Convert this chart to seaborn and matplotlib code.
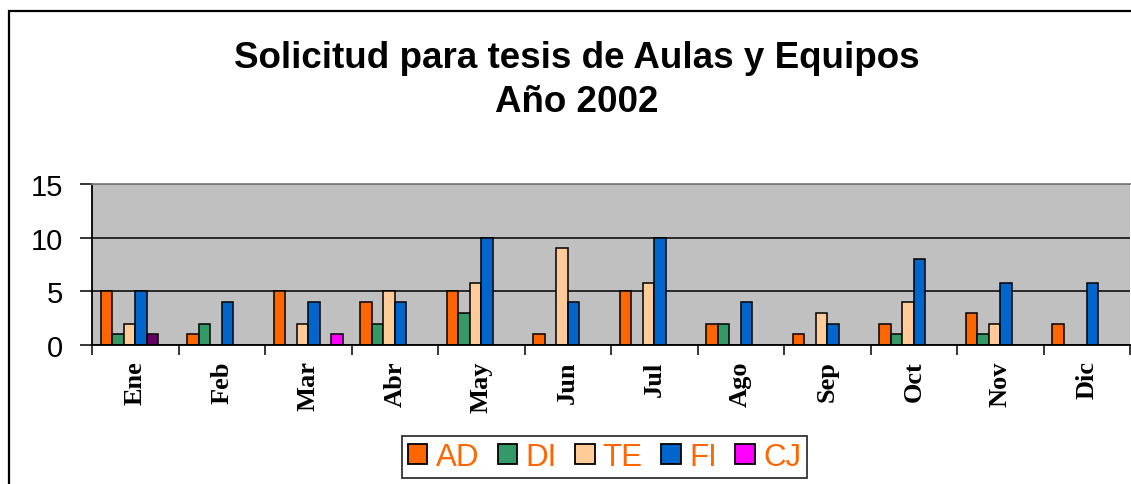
import matplotlib
matplotlib.use("Agg")
import matplotlib.pyplot as plt
from matplotlib.patches import Patch, Rectangle
import numpy as np
import pandas as pd
import seaborn as sns

meses = ["Ene", "Feb", "Mar", "Abr", "May", "Jun", "Jul", "Ago", "Sep", "Oct", "Nov", "Dic"]
series = ["AD", "DI", "TE", "FI", "S5", "CJ"]
legend_series = ["AD", "DI", "TE", "FI", "CJ"]

ad = [5, 1, 5, 4, 5, 1, 5, 2, 1, 2, 3, 2]
di = [1, 2, 0, 2, 3, 0, 0, 2, 0, 1, 1, 0]
te = [2, 0, 2, 5, 5.8, 9, 5.8, 0, 3, 4, 2, 0]
fi = [5, 4, 4, 4, 10, 4, 10, 4, 2, 8, 5.8, 5.8]
s5 = [1, 0, 0, 0, 0, 0, 0, 0, 0, 0, 0, 0]
cj = [0, 0, 1, 0, 0, 0, 0, 0, 0, 0, 0, 0]

colores = {"AD": "#FF6600", "DI": "#339966", "TE": "#FFCC99",
           "FI": "#0066CC", "S5": "#660066", "CJ": "#FF00FF"}

valores = {"AD": ad, "DI": di, "TE": te, "FI": fi, "S5": s5, "CJ": cj}
rows = []
for s in series:
    for m, v in zip(meses, valores[s]):
        if v > 0:
            rows.append({"Mes": m, "Serie": s, "Valor": v})
df = pd.DataFrame(rows)

sns.set_style("ticks")
plt.rcParams["font.family"] = ["Liberation Sans", "DejaVu Sans"]
plt.rcParams["text.color"] = "black"
plt.rcParams["xtick.color"] = "black"
plt.rcParams["ytick.color"] = "black"
plt.rcParams["axes.labelcolor"] = "black"

W, H = 1131, 485
fig = plt.figure(figsize=(W / 100, H / 100), dpi=100)
ax = fig.add_axes([92 / W, 1 - 346 / H, (1130 - 92) / W, (346 - 185) / H])

sns.barplot(data=df, x="Mes", y="Valor", hue="Serie", order=meses, hue_order=series,
            palette=colores, width=0.8, dodge=True, saturation=1, errorbar=None,
            edgecolor="black", linewidth=1.1, legend=False, ax=ax)

ax.set_facecolor("#C0C0C0")
ax.set_xlim(-0.5, 11.5)
ax.set_ylim(0, 15)
ax.set_yticks([0, 5, 10, 15])
ax.set_yticklabels(["0", "5", "10", "15"], fontsize=21, color="black")
ax.yaxis.grid(True, color="black", linewidth=1.1)
ax.xaxis.grid(False)
ax.set_axisbelow(True)
ax.tick_params(axis="y", left=True, direction="out", length=9, width=1.1, pad=12,
               colors="black")

ax.set_xticks(range(12))
ax.set_xticklabels(meses, rotation=90, fontsize=19, fontweight="bold",
                   family="Liberation Serif", va="top", ha="center", color="black")
ax.tick_params(axis="x", which="major", bottom=True, length=0, pad=11)
ax.set_xticks(np.arange(-0.5, 12, 1), minor=True)
ax.tick_params(axis="x", which="minor", bottom=True, direction="out", length=7,
               width=1.1, color="black")
ax.set_xlabel("")
ax.set_ylabel("")

for side in ["left", "bottom"]:
    ax.spines[side].set_visible(True)
    ax.spines[side].set_color("black")
    ax.spines[side].set_linewidth(1.3)
ax.spines["top"].set_visible(True)
ax.spines["top"].set_color("#808080")
ax.spines["top"].set_linewidth(1.3)
ax.spines["right"].set_visible(False)

fig.text(577 / W, 1 - 58 / H, "Solicitud para tesis de Aulas y Equipos",
         ha="center", va="center", fontsize=26.5, fontweight="bold", color="black")
fig.text(577 / W, 1 - 103 / H, "Año 2002",
         ha="center", va="center", fontsize=26.5, fontweight="bold", color="black")

handles = [Patch(facecolor=colores[s], edgecolor="black", linewidth=1.3) for s in legend_series]
leg = fig.legend(handles, legend_series, loc="center",
                 bbox_to_anchor=((401 + 808) / 2 / W, 1 - 458 / H), ncol=5,
                 frameon=True, fancybox=False, edgecolor="black",
                 prop={"size": 22.5, "family": "Liberation Sans"}, labelcolor="#FF6600",
                 handlelength=0.62, handleheight=0.62, handletextpad=0.26,
                 columnspacing=0.6, borderpad=0.2, borderaxespad=0)
leg.get_frame().set_linewidth(1.3)

fig.add_artist(Rectangle((9 / W, -0.2), 1.5, 1.2 - 12 / H, transform=fig.transFigure,
                         fill=False, edgecolor="black", linewidth=1.6))

fig.savefig("out.png", dpi=100, facecolor="white")
